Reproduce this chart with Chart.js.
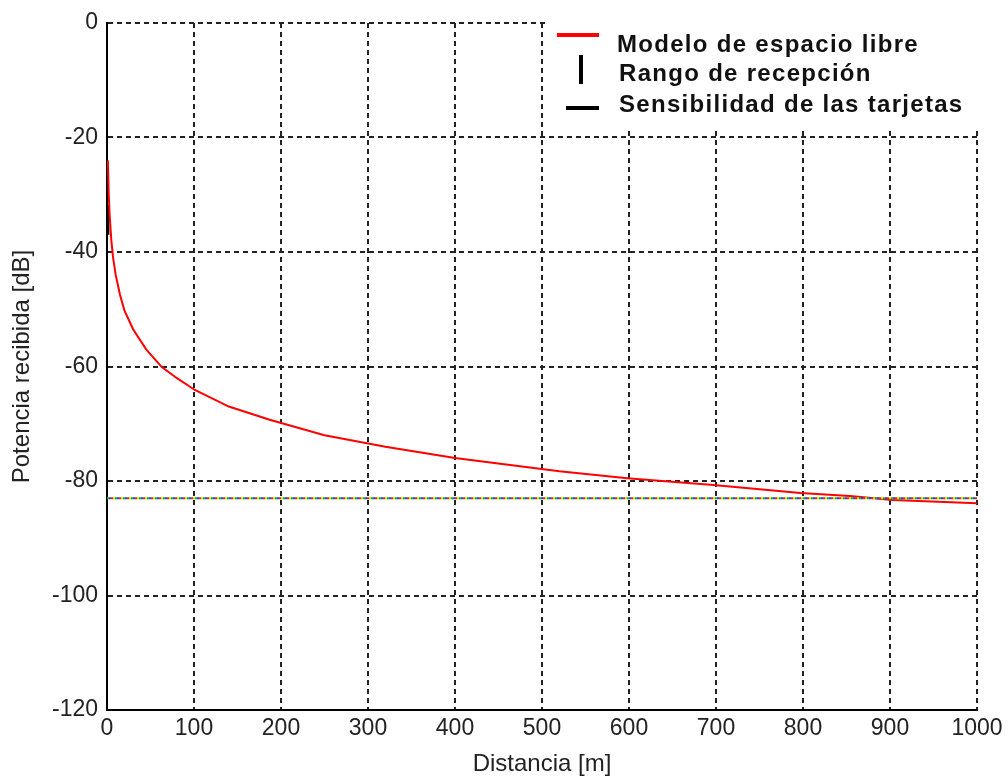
<!DOCTYPE html>
<html>
<head>
<meta charset="utf-8">
<script src="https://cdn.jsdelivr.net/npm/chart.js@4"></script>
<style>
  html, body { margin: 0; padding: 0; background: #fff; }
  #wrap { width: 1008px; height: 781px; }
</style>
</head>
<body>
<div id="wrap"><canvas id="potencia-chart"></canvas></div>
<script>
// distancias [m] y potencia recibida [dB]
const distancias = [1, 2, 3, 5, 7, 10, 15, 20, 30, 45, 63, 80, 101, 140, 187, 250, 320, 400, 520, 598, 697, 797, 854, 903, 1000];
const potencia = [-24, -30, -33.5, -38, -41, -44, -47.5, -50.2, -53.5, -57, -60.1, -62, -64.1, -67, -69.3, -72, -74, -76, -78.3, -79.5, -80.7, -82.1, -82.6, -83.3, -83.9];
const rangoX = [1, 1];
const rangoY = [-31.8, -37];
const sensX = [0, 1000];
const sensY = [-83, -83];
const nombres = ['Modelo de espacio libre', 'Rango de recepción', 'Sensibilidad de las tarjetas'];
const xTicks = [0, 100, 200, 300, 400, 500, 600, 700, 800, 900, 1000];
const yTicks = [0, -20, -40, -60, -80, -100, -120];

const toPts = (xs, ys) => xs.map((x, i) => ({x: x, y: ys[i]}));

// linea de sensibilidad punteada multicolor
const colSens = ['#00c000', '#2040ff', '#ff2020', '#e0d000'];
const sensSets = colSens.map((c, i) => ({
  data: toPts(sensX, sensY),
  borderColor: c,
  borderWidth: 2,
  borderDash: [2, 6],
  borderDashOffset: -2 * i,
  pointRadius: 0,
  showLine: true
}));

const legendaBox = {
  id: 'legendaBox',
  afterDatasetsDraw(chart) {
    const ctx = chart.ctx;
    ctx.save();
    ctx.fillStyle = '#fff';
    ctx.fillRect(546, 14, 450, 113);
    ctx.lineCap = 'butt';
    // muestras
    ctx.strokeStyle = 'red'; ctx.lineWidth = 4;
    ctx.beginPath(); ctx.moveTo(557, 35); ctx.lineTo(599, 35); ctx.stroke();
    ctx.strokeStyle = '#000'; ctx.lineWidth = 4;
    ctx.beginPath(); ctx.moveTo(581, 55); ctx.lineTo(581, 84); ctx.stroke();
    ctx.beginPath(); ctx.moveTo(566, 108); ctx.lineTo(599, 108); ctx.stroke();
    ctx.fillStyle = '#111';
    ctx.font = 'bold 24px "Liberation Sans", Arial, sans-serif';
    ctx.letterSpacing = '1.3px';
    ctx.textBaseline = 'middle';
    ctx.fillText(nombres[0], 617, 45);
    ctx.fillText(nombres[1], 619, 74);
    ctx.fillText(nombres[2], 619, 105);
    ctx.restore();
  }
};

const fuente = {family: '"Liberation Sans", Arial, sans-serif', size: 23};

const config = {
  type: 'scatter',
  data: {
    datasets: [
      ...sensSets,
      {
        label: nombres[0],
        data: toPts(distancias, potencia),
        borderColor: 'red',
        borderWidth: 2,
        pointRadius: 0,
        showLine: true
      },
      {
        label: nombres[1],
        data: toPts(rangoX, rangoY),
        borderColor: '#000',
        borderWidth: 3,
        pointRadius: 0,
        showLine: true
      }
    ]
  },
  plugins: [legendaBox],
  options: {
    responsive: true,
    maintainAspectRatio: false,
    animation: false,
    layout: { padding: { left: 0, right: 31, top: 23, bottom: 0 } },
    plugins: { legend: { display: false }, tooltip: { enabled: false } },
    scales: {
      x: {
        type: 'linear',
        min: 0, max: 1000,
        afterFit: s => { s.height = 71; },
        afterBuildTicks: s => { s.ticks = xTicks.map(v => ({value: v})); },
        grid: { color: '#222', lineWidth: 2, drawTicks: false },
        border: { display: true, color: '#000', width: 2, dash: [5, 4] },
        ticks: { color: '#222', font: fuente, padding: 5, maxRotation: 0, callback: v => String(v) },
        title: { display: true, text: 'Distancia [m]', color: '#222', font: {family: fuente.family, size: 24}, padding: {top: 0, bottom: 2} }
      },
      y: {
        type: 'linear',
        min: -120, max: 0,
        afterFit: s => { s.width = 107; },
        afterBuildTicks: s => { s.ticks = yTicks.map(v => ({value: v})); },
        grid: { color: '#222', lineWidth: 2, drawTicks: false },
        border: { display: true, color: '#000', width: 2, dash: [5, 4] },
        ticks: { color: '#222', font: fuente, padding: 9, callback: v => String(v) },
        title: { display: true, text: 'Potencia recibida [dB]', color: '#222', font: {family: fuente.family, size: 24}, padding: {top: 8, bottom: 0} }
      }
    }
  }
};

const grafico = new Chart(document.getElementById('potencia-chart').getContext('2d'), config);
</script>
</body>
</html>
